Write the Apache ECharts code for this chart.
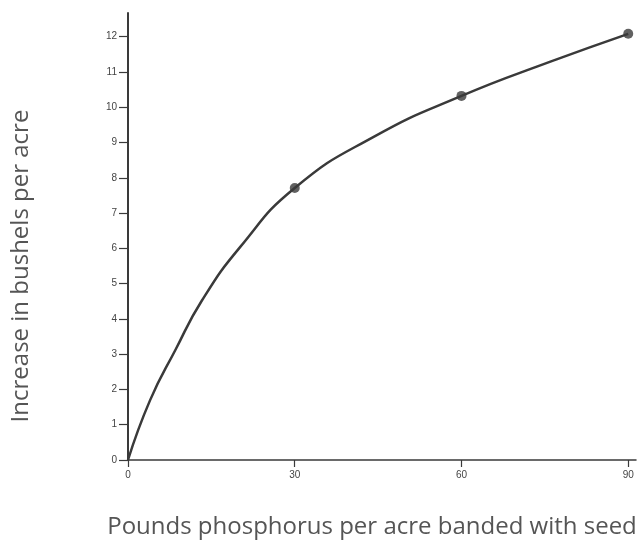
<!DOCTYPE html>
<html>
<head>
<meta charset="utf-8">
<script src="https://cdn.jsdelivr.net/npm/echarts@6/dist/echarts.min.js"></script>
<style>
  html, body { margin: 0; padding: 0; background: #fff; }
  #chart { width: 640px; height: 541px; }
</style>
</head>
<body>
<div id="chart"></div>
<script>
  // values (lb phosphorus -> bushel increase)
  const curveX = [0, 3.96, 8.5, 13.3, 20.2, 30, 44.2, 60, 76, 90]
  const curveY = [0, 1.69, 3.11, 4.52, 6.04, 7.71, 9.16, 10.32, 11.29, 12.08]
  // measured points (dots)
  const pointX = [30, 60, 90]
  const pointY = [7.71, 10.32, 12.08]
  const xTicks = [0, 30, 60, 90]
  const yTicks = [0, 1, 2, 3, 4, 5, 6, 7, 8, 9, 10, 11, 12]

  const ink = '#3a3a3a'
  const titleFont = {
    fontFamily: 'Open Sans',
    fontSize: 24,
    fill: '#555'
  }
  const chart = echarts.init(document.getElementById('chart'))

  const option = {
    backgroundColor: '#fff',
    animation: false,
    grid: {
      left: 128,
      top: 13,
      width: 508,
      height: 447
    },
    // axis titles sit off-centre in the original, so place them by hand
    graphic: [
      {
        type: 'text',
        x: 372,
        y: 527,
        style: Object.assign({
          text: 'Pounds phosphorus per acre banded with seed',
          align: 'center',
          verticalAlign: 'middle'
        }, titleFont)
      },
      {
        type: 'text',
        x: 21,
        y: 266,
        rotation: Math.PI / 2,
        style: Object.assign({
          text: 'Increase in bushels per acre',
          align: 'center',
          verticalAlign: 'middle'
        }, titleFont)
      }
    ],
    xAxis: {
      type: 'value',
      min: 0,
      max: 91.4,
      splitLine: { show: false },
      axisLine: { lineStyle: { color: ink, width: 1.5 } },
      axisTick: {
        customValues: xTicks,
        length: 7,
        lineStyle: { color: ink, width: 1.2 }
      },
      axisLabel: {
        customValues: xTicks,
        margin: 10,
        fontFamily: 'Liberation Sans',
        fontSize: 10,
        color: '#444'
      }
    },
    yAxis: {
      type: 'value',
      min: 0,
      max: 12.67,
      splitLine: { show: false },
      axisLine: { show: true, lineStyle: { color: ink, width: 2 } },
      axisTick: {
        show: true,
        customValues: yTicks,
        length: 9,
        lineStyle: { color: ink, width: 1.2 }
      },
      axisLabel: {
        customValues: yTicks,
        margin: 11,
        fontFamily: 'Liberation Sans',
        fontSize: 10,
        color: '#444'
      }
    },
    series: [
      {
        type: 'line',
        smooth: 0.5,
        showSymbol: false,
        lineStyle: { color: ink, width: 2.5 },
        data: curveX.map((x, i) => [x, curveY[i]])
      },
      {
        type: 'scatter',
        symbolSize: 10,
        itemStyle: { color: ink },
        data: pointX.map((x, i) => [x, pointY[i]])
      }
    ]
  }

  chart.setOption(option)
</script>
</body>
</html>
